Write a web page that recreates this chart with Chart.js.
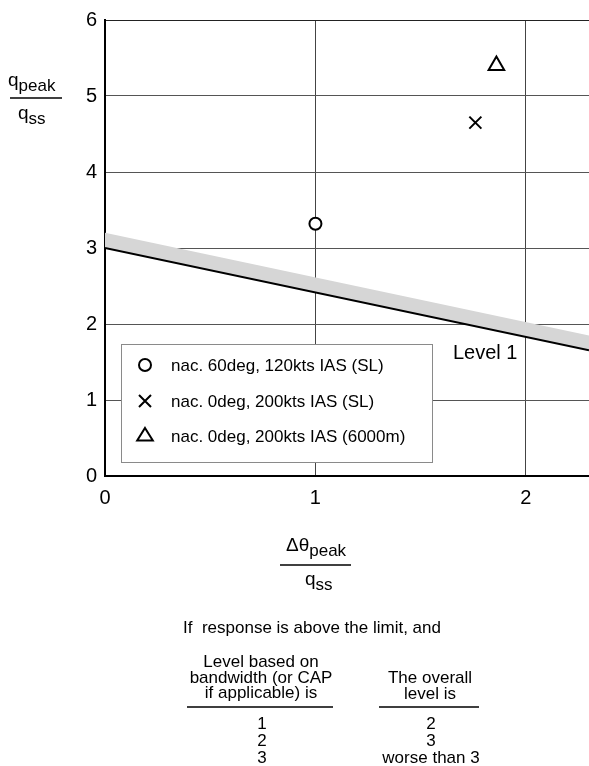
<!DOCTYPE html>
<html lang="en">
<head>
    <meta charset="UTF-8">
    <title>Pitch attitude dropback criterion</title>
    <script src="https://cdn.jsdelivr.net/npm/chart.js"></script>
    <style>
        body {
            margin: 0;
            background: #ffffff;
        }
        canvas {
            display: block;
        }
    </style>
</head>
<body>
    <canvas id="dropback-chart" width="589" height="766"></canvas>

    <script>
        // values
        const seriesLabels = [
            'nac. 60deg, 120kts IAS (SL)',
            'nac. 0deg, 200kts IAS (SL)',
            'nac. 0deg, 200kts IAS (6000m)'
        ];
        const seriesStyles = ['circle', 'crossRot', 'triangle'];
        const seriesX = [1.0, 1.76, 1.86];
        const seriesY = [3.32, 4.65, 5.4];

        const limitX = [0, 2.3];
        const limitY = [3.0, 1.655];
        const bandTopY = [3.2, 1.85];

        const xTicks = [0, 1, 2];
        const yTicks = [0, 1, 2, 3, 4, 5, 6];

        const noteText = 'If  response is above the limit, and';
        const leftHeader = ['Level based on', 'bandwidth (or CAP', 'if applicable) is'];
        const rightHeader = ['The overall', 'level is'];
        const bandwidthLevels = ['1', '2', '3'];
        const overallLevels = ['2', '3', 'worse than 3'];

        const FONT = '"Liberation Sans", Arial, sans-serif';
        const pointRadii = { circle: 6, crossRot: 8.5, triangle: 9 };

        const toPoints = (xs, ys) => xs.map((x, i) => ({ x: x, y: ys[i] }));

        const pointSets = seriesLabels.map((label, i) => ({
            type: 'scatter',
            label: label,
            data: [{ x: seriesX[i], y: seriesY[i] }],
            pointStyle: seriesStyles[i],
            pointRadius: pointRadii[seriesStyles[i]],
            pointBorderWidth: 2,
            pointBorderColor: '#000',
            pointBackgroundColor: '#fff',
            order: 0
        }));

        const limitSet = {
            type: 'line',
            label: 'limit',
            data: toPoints(limitX, limitY),
            borderColor: '#000',
            borderWidth: 2,
            pointRadius: 0,
            fill: false,
            order: 1
        };

        const bandSet = {
            type: 'line',
            label: 'band',
            data: toPoints(limitX, bandTopY),
            borderWidth: 0,
            borderColor: 'rgba(0,0,0,0)',
            backgroundColor: '#d6d6d6',
            pointRadius: 0,
            fill: 3,
            order: 2
        };

        function drawMarker(ctx, style, x, y) {
            ctx.save();
            ctx.lineWidth = 2;
            ctx.strokeStyle = '#000';
            ctx.fillStyle = '#fff';
            ctx.beginPath();
            if (style === 'circle') {
                ctx.arc(x, y, 6, 0, Math.PI * 2);
                ctx.fill();
            } else if (style === 'crossRot') {
                ctx.moveTo(x - 6, y - 6); ctx.lineTo(x + 6, y + 6);
                ctx.moveTo(x + 6, y - 6); ctx.lineTo(x - 6, y + 6);
            } else {
                ctx.moveTo(x, y - 8);
                ctx.lineTo(x + 7.8, y + 4.5);
                ctx.lineTo(x - 7.8, y + 4.5);
                ctx.closePath();
            }
            ctx.stroke();
            ctx.restore();
        }

        // fraction label: main + subscript over main + subscript
        function drawFrac(ctx, top, bottom, lineX1, lineX2, lineY) {
            ctx.save();
            ctx.fillStyle = '#000';
            ctx.textAlign = 'left';
            ctx.textBaseline = 'alphabetic';
            [top, bottom].forEach(part => {
                ctx.font = '19px ' + FONT;
                ctx.fillText(part.main, part.x, part.y);
                const w = ctx.measureText(part.main).width;
                ctx.font = '17px ' + FONT;
                ctx.fillText(part.sub, part.x + w, part.y + 5);
            });
            ctx.strokeStyle = '#000';
            ctx.lineWidth = 1.5;
            ctx.beginPath();
            ctx.moveTo(lineX1, lineY);
            ctx.lineTo(lineX2, lineY);
            ctx.stroke();
            ctx.restore();
        }

        const decorations = {
            id: 'decorations',
            afterDraw(chart) {
                const ctx = chart.ctx;

                // legend box inside plot
                ctx.save();
                ctx.fillStyle = '#fff';
                ctx.fillRect(121, 344, 311, 118);
                ctx.strokeStyle = '#8a8a8a';
                ctx.lineWidth = 1;
                ctx.strokeRect(121.5, 344.5, 311, 118);
                ctx.fillStyle = '#000';
                ctx.font = '17px ' + FONT;
                ctx.textBaseline = 'middle';
                ctx.textAlign = 'left';
                const rows = [365, 401, 436];
                seriesLabels.forEach((label, i) => {
                    drawMarker(ctx, seriesStyles[i], 145, rows[i]);
                    ctx.fillText(label, 171, rows[i] + 1);
                });

                // line annotation
                ctx.font = '20px ' + FONT;
                ctx.textBaseline = 'alphabetic';
                ctx.fillText('Level 1', 453, 359);
                ctx.restore();

                // axis titles
                drawFrac(ctx,
                    { main: 'q', sub: 'peak', x: 8, y: 86 },
                    { main: 'q', sub: 'ss', x: 18, y: 119 },
                    10, 62, 98);
                drawFrac(ctx,
                    { main: '\u0394\u03b8', sub: 'peak', x: 286, y: 551 },
                    { main: 'q', sub: 'ss', x: 305, y: 585 },
                    280, 351, 565);

                // note and table under the chart
                ctx.save();
                ctx.fillStyle = '#000';
                ctx.font = '17px ' + FONT;
                ctx.textBaseline = 'alphabetic';
                ctx.textAlign = 'center';
                ctx.fillText(noteText, 312, 633);
                leftHeader.forEach((t, i) => ctx.fillText(t, 261, 667 + i * 15.5));
                rightHeader.forEach((t, i) => ctx.fillText(t, 430, 683 + i * 15.5));
                bandwidthLevels.forEach((t, i) => ctx.fillText(t, 262, 729 + i * 17));
                overallLevels.forEach((t, i) => ctx.fillText(t, 431, 729 + i * 17));
                ctx.strokeStyle = '#000';
                ctx.lineWidth = 1.5;
                ctx.beginPath();
                ctx.moveTo(187, 707); ctx.lineTo(333, 707);
                ctx.moveTo(379, 707); ctx.lineTo(479, 707);
                ctx.stroke();
                ctx.restore();
            }
        };

        new Chart(document.getElementById('dropback-chart'), {
            data: {
                datasets: [...pointSets, limitSet, bandSet]
            },
            options: {
                responsive: false,
                animation: false,
                devicePixelRatio: 1,
                layout: {
                    autoPadding: false,
                    padding: { top: 20, left: 0, right: 0, bottom: 0 }
                },
                plugins: {
                    legend: { display: false },
                    tooltip: { enabled: false }
                },
                scales: {
                    x: {
                        type: 'linear',
                        min: 0,
                        max: 2.3,
                        afterFit(scale) {
                            scale.height = 290;
                            scale.paddingLeft = 0;
                            scale.paddingRight = 0;
                        },
                        afterBuildTicks(scale) { scale.ticks = xTicks.map(v => ({ value: v })); },
                        ticks: {
                            padding: 10,
                            color: '#000',
                            font: { family: FONT, size: 20 },
                            callback: v => String(v)
                        },
                        grid: { color: '#444', lineWidth: 1, drawTicks: false },
                        border: { color: '#000', width: 2 }
                    },
                    y: {
                        type: 'linear',
                        min: 0,
                        max: 6,
                        afterFit(scale) {
                            scale.width = 105;
                            scale.paddingTop = 0;
                            scale.paddingBottom = 0;
                        },
                        afterBuildTicks(scale) { scale.ticks = yTicks.map(v => ({ value: v })); },
                        ticks: {
                            padding: 8,
                            color: '#000',
                            font: { family: FONT, size: 20 },
                            callback: v => String(v)
                        },
                        grid: {
                            color: ctx => ctx.tick && ctx.tick.value === 6 ? '#222' : '#555',
                            lineWidth: 1,
                            drawTicks: false
                        },
                        border: { color: '#000', width: 2 }
                    }
                }
            },
            plugins: [decorations]
        });
    </script>
</body>
</html>
